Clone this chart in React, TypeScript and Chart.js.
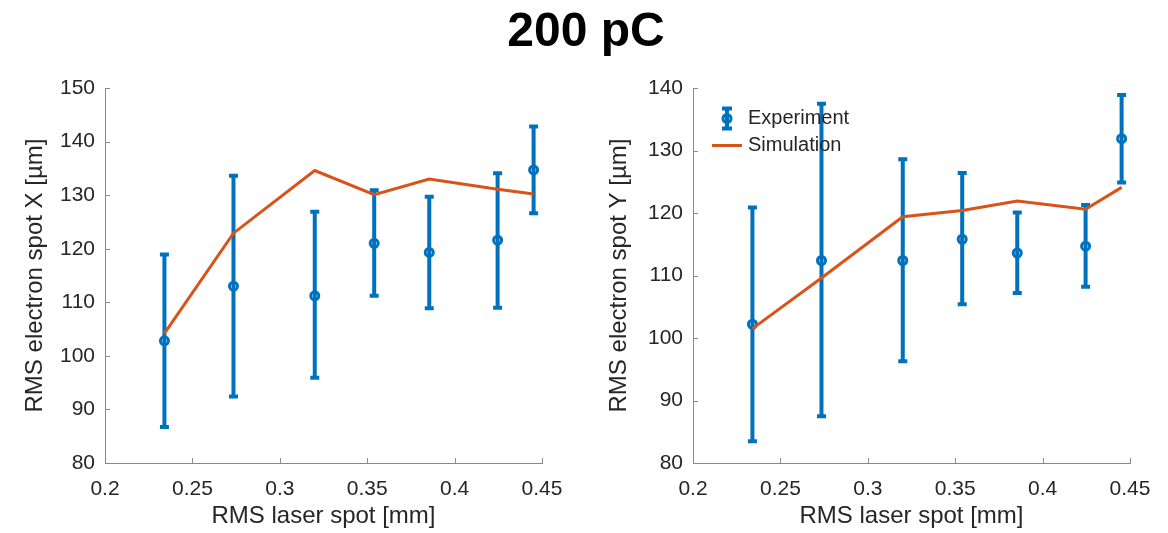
import React, { useEffect, useRef } from "react";
import { Chart, registerables } from "chart.js";

Chart.register(...registerables);

// ---- data ----
const laserSpot = [0.234, 0.2735, 0.32, 0.354, 0.3855, 0.4246, 0.4452];
const xTickValues = [0.2, 0.25, 0.3, 0.35, 0.4, 0.45];

const expX = [102.8, 113.0, 111.2, 121.0, 119.3, 121.6, 134.7];
const expXLow = [86.7, 92.4, 95.9, 111.2, 108.9, 109.0, 126.6];
const expXHigh = [118.9, 133.6, 126.9, 130.9, 129.7, 134.1, 142.8];
const simX = [104.2, 122.9, 134.6, 130.1, 133.0, 131.1, 130.2];
const yTicksX = [80, 90, 100, 110, 120, 130, 140, 150];

const expY = [102.2, 112.4, 112.4, 115.8, 113.6, 114.7, 131.9];
const expYLow = [83.5, 87.5, 96.3, 105.4, 107.2, 108.2, 124.9];
const expYHigh = [120.9, 137.5, 128.6, 126.4, 120.1, 121.3, 138.9];
const simY = [101.5, 109.6, 119.4, 120.4, 121.9, 120.6, 124.1];
const yTicksY = [80, 90, 100, 110, 120, 130, 140];

const titleText = "200 pC";
const xTitle = "RMS laser spot [mm]";
const yTitleX = "RMS electron spot X [µm]";
const yTitleY = "RMS electron spot Y [µm]";
const legendLabels = ["Experiment", "Simulation"];

const BLUE = "#0072BD";
const ORANGE = "#D95319";
const AXIS = "#8a8a8a";
const TEXT = "#262626";
const FONT = '"Liberation Sans", Arial, Helvetica, sans-serif';

type PanelProps = {
  left: number;
  exp: number[];
  low: number[];
  high: number[];
  sim: number[];
  yTicks: number[];
  yTitle: string;
  axisWidth: number;
  padRight: number;
  showLegend: boolean;
};

function Panel(p: PanelProps) {
  const ref = useRef<HTMLCanvasElement | null>(null);
  useEffect(() => {
    if (!ref.current) return;
    const errorBars = {
      id: "errorBars",
      beforeDatasetsDraw(chart: any) {
        const xs = chart.scales.x;
        const ys = chart.scales.y;
        const ctx = chart.ctx;
        ctx.save();
        ctx.strokeStyle = BLUE;
        ctx.lineWidth = 4;
        ctx.lineCap = "butt";
        laserSpot.forEach((sx, i) => {
          const px = xs.getPixelForValue(sx);
          const pl = ys.getPixelForValue(p.low[i]);
          const ph = ys.getPixelForValue(p.high[i]);
          ctx.beginPath();
          ctx.moveTo(px, pl);
          ctx.lineTo(px, ph);
          ctx.moveTo(px - 4.5, pl);
          ctx.lineTo(px + 4.5, pl);
          ctx.moveTo(px - 4.5, ph);
          ctx.lineTo(px + 4.5, ph);
          ctx.stroke();
        });
        ctx.restore();
      },
    };
    const innerTicks = {
      id: "innerTicks",
      afterDraw(chart: any) {
        const xs = chart.scales.x;
        const ys = chart.scales.y;
        const ctx = chart.ctx;
        const a = chart.chartArea;
        ctx.save();
        ctx.strokeStyle = AXIS;
        ctx.lineWidth = 1;
        xs.ticks.forEach((t: any) => {
          const px = Math.round(xs.getPixelForValue(t.value)) + 0.5;
          ctx.beginPath();
          ctx.moveTo(px, a.bottom);
          ctx.lineTo(px, a.bottom - 5);
          ctx.stroke();
        });
        ys.ticks.forEach((t: any) => {
          const py = Math.round(ys.getPixelForValue(t.value)) + 0.5;
          ctx.beginPath();
          ctx.moveTo(a.left, py);
          ctx.lineTo(a.left + 5, py);
          ctx.stroke();
        });
        ctx.restore();
      },
    };
    const legend = {
      id: "customLegend",
      afterDraw(chart: any) {
        if (!p.showLegend) return;
        const ctx = chart.ctx;
        const a = chart.chartArea;
        const x0 = a.left + 34;
        const y1 = a.top + 30.5;
        const y2 = a.top + 57.5;
        ctx.save();
        // error-bar icon
        ctx.strokeStyle = BLUE;
        ctx.lineWidth = 4;
        ctx.beginPath();
        ctx.moveTo(x0, y1 - 10);
        ctx.lineTo(x0, y1 + 10);
        ctx.moveTo(x0 - 5, y1 - 10);
        ctx.lineTo(x0 + 5, y1 - 10);
        ctx.moveTo(x0 - 5, y1 + 10);
        ctx.lineTo(x0 + 5, y1 + 10);
        ctx.stroke();
        ctx.lineWidth = 3;
        ctx.beginPath();
        ctx.arc(x0, y1, 4, 0, Math.PI * 2);
        ctx.stroke();
        // line icon
        ctx.strokeStyle = ORANGE;
        ctx.lineWidth = 3;
        ctx.beginPath();
        ctx.moveTo(x0 - 15, y2);
        ctx.lineTo(x0 + 15, y2);
        ctx.stroke();
        ctx.fillStyle = TEXT;
        ctx.font = `20px ${FONT}`;
        ctx.textBaseline = "middle";
        ctx.textAlign = "left";
        ctx.fillText(legendLabels[0], x0 + 21, y1);
        ctx.fillText(legendLabels[1], x0 + 21, y2);
        ctx.restore();
      },
    };

    const chart = new Chart(ref.current, {
      type: "line",
      data: {
        datasets: [
          {
            label: legendLabels[0],
            data: laserSpot.map((x, i) => ({ x, y: p.exp[i] })),
            showLine: false,
            borderColor: BLUE,
            backgroundColor: "rgba(0,0,0,0)",
            pointBackgroundColor: "rgba(0,0,0,0)",
            pointBorderColor: BLUE,
            pointBorderWidth: 3,
            pointRadius: 4,
            order: 1,
          },
          {
            label: legendLabels[1],
            data: laserSpot.map((x, i) => ({ x, y: p.sim[i] })),
            borderColor: ORANGE,
            borderWidth: 3,
            pointRadius: 0,
            tension: 0,
            order: 0,
          },
        ],
      },
      options: {
        responsive: false,
        animation: false,
        events: [],
        layout: { padding: { top: 88, right: p.padRight, left: 0, bottom: 0 } },
        plugins: {
          legend: { display: false },
          tooltip: { enabled: false },
          title: { display: false },
        },
        scales: {
          x: {
            type: "linear",
            min: 0.2,
            max: 0.45,
            afterBuildTicks: (s: any) => {
              s.ticks = xTickValues.map((v) => ({ value: v }));
            },
            afterFit: (s: any) => {
              s.height = 70;
            },
            grid: { display: false, drawTicks: false },
            border: { display: true, color: AXIS, width: 1 },
            ticks: {
              color: TEXT,
              font: { family: FONT, size: 21 },
              padding: 14,
              maxRotation: 0,
              autoSkip: false,
              callback: (v: any) => String(Number(Number(v).toFixed(2))),
            },
            title: {
              display: true,
              text: xTitle,
              color: TEXT,
              font: { family: FONT, size: 24 },
              padding: { top: 0, bottom: 2 },
            },
          },
          y: {
            type: "linear",
            min: p.yTicks[0],
            max: p.yTicks[p.yTicks.length - 1],
            afterBuildTicks: (s: any) => {
              s.ticks = p.yTicks.map((v) => ({ value: v }));
            },
            afterFit: (s: any) => {
              s.width = p.axisWidth;
            },
            grid: { display: false, drawTicks: false },
            border: { display: true, color: AXIS, width: 1 },
            ticks: {
              color: TEXT,
              font: { family: FONT, size: 21 },
              padding: 10,
              autoSkip: false,
              callback: (v: any) => String(v),
            },
            title: {
              display: true,
              text: p.yTitle,
              color: TEXT,
              font: { family: FONT, size: 24 },
              padding: { top: 21, bottom: 0 },
            },
          },
        },
      },
      plugins: [errorBars, innerTicks, legend],
    } as any);
    return () => chart.destroy();
  }, []);
  return (
    <canvas
      ref={ref}
      width={584}
      height={533}
      style={{ position: "absolute", left: p.left, top: 0, width: 584, height: 533 }}
    />
  );
}

export default function App() {
  return (
    <div
      style={{
        position: "fixed",
        left: 0,
        top: 0,
        width: 1168,
        height: 533,
        background: "#ffffff",
        overflow: "hidden",
      }}
    >
      <Panel
        left={0}
        exp={expX}
        low={expXLow}
        high={expXHigh}
        sim={simX}
        yTicks={yTicksX}
        yTitle={yTitleX}
        axisWidth={105}
        padRight={42}
        showLegend={false}
      />
      <Panel
        left={584}
        exp={expY}
        low={expYLow}
        high={expYHigh}
        sim={simY}
        yTicks={yTicksY}
        yTitle={yTitleY}
        axisWidth={109}
        padRight={38}
        showLegend={true}
      />
      <div
        style={{
          position: "absolute",
          left: 0,
          top: 8,
          width: 1172,
          textAlign: "center",
          fontFamily: FONT,
          fontWeight: "bold",
          fontSize: 48,
          lineHeight: "44px",
          color: "#000",
        }}
      >
        {titleText}
      </div>
    </div>
  );
}
